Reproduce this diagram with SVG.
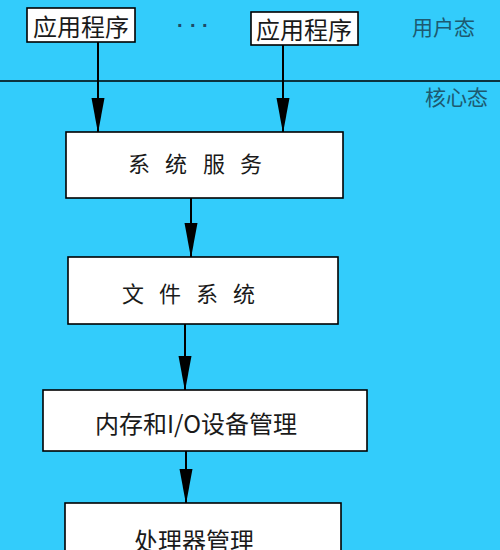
<svg xmlns="http://www.w3.org/2000/svg" width="500" height="550" viewBox="0 0 500 550">
<style>
.box{fill:#fff;stroke:#000;stroke-width:1.6}
.t{font-family:"Noto Sans CJK SC","Liberation Serif",serif;fill:#1a1a1a}
.lab{font-family:"Noto Sans CJK SC","Liberation Sans",sans-serif;fill:#1d5a70;font-size:21px}
.con{stroke:#000;stroke-width:2;fill:none;marker-end:url(#ah)}
</style>
<defs>
<marker id="ah" markerUnits="userSpaceOnUse" markerWidth="36" markerHeight="14" refX="35" refY="6.5" orient="auto">
<path d="M0,0 L35,6.5 L0,13 Z" fill="#000"/>
</marker>
</defs>
<rect width="500" height="550" fill="#33ccfb"/>
<line x1="0" y1="81" x2="500" y2="81" stroke="#000" stroke-width="1.5"/>
<text class="lab" x="412" y="35">用户态</text>
<text class="lab" x="425" y="105">核心态</text>
<text x="177 190 202" y="32" font-family="Liberation Sans, sans-serif" font-size="20" font-weight="bold" fill="#1d4a66">···</text>
<g id="connectors">
<line class="con" x1="98" y1="42" x2="98" y2="133"/>
<line class="con" x1="283" y1="45" x2="283" y2="133"/>
<line class="con" x1="191" y1="198" x2="191" y2="258"/>
<line class="con" x1="185" y1="324" x2="185" y2="391"/>
<line class="con" x1="186" y1="451" x2="186" y2="504"/>
</g>
<g id="app1">
<rect class="box" x="27" y="8" width="108" height="34"/>
<text class="t" x="81" y="36" font-size="24" text-anchor="middle">应用程序</text>
</g>
<g id="app2">
<rect class="box" x="251" y="12" width="107" height="33"/>
<text class="t" x="304" y="39" font-size="24" text-anchor="middle">应用程序</text>
</g>
<g id="sys">
<rect class="box" x="66" y="132" width="277" height="66"/>
<text class="t" x="128 165 203 240" y="172" font-size="22">系统服务</text>
</g>
<g id="fs">
<rect class="box" x="68" y="257" width="270" height="67"/>
<text class="t" x="122 159 196 233" y="302" font-size="22">文件系统</text>
</g>
<g id="mem">
<rect class="box" x="43" y="390" width="324" height="61"/>
<text class="t" x="196" y="433" font-size="24" text-anchor="middle">内存和I/O设备管理</text>
</g>
<g id="cpu">
<rect class="box" x="65" y="503" width="276" height="60"/>
<text class="t" x="194" y="550" font-size="24" text-anchor="middle">处理器管理</text>
</g>
</svg>
